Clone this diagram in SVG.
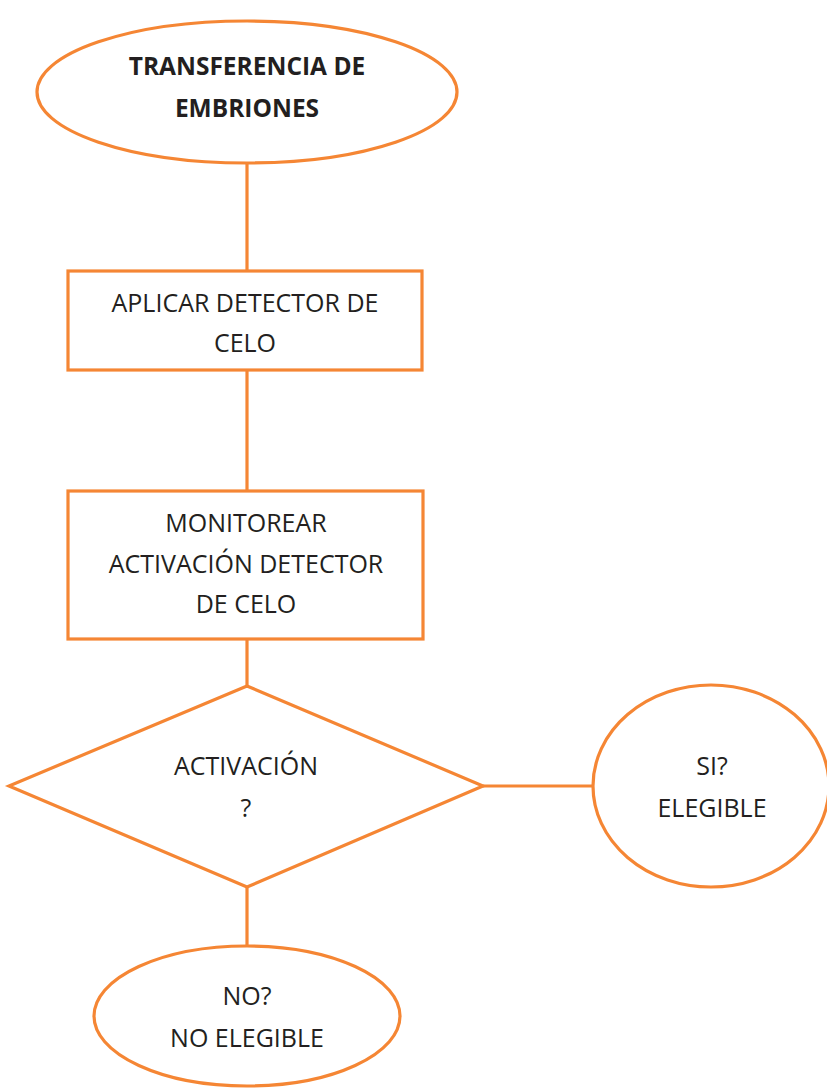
<svg xmlns="http://www.w3.org/2000/svg" width="827" height="1088" viewBox="0 0 827 1088">
<style>
.s{fill:#fff;stroke:#F58634;stroke-width:3.2}
.c{stroke:#F58634;stroke-width:3.2;fill:none}
text{font-family:"Open Sans","Liberation Sans",sans-serif;font-size:25px;fill:#231f20;text-anchor:middle}
.b{font-weight:bold;font-size:24.5px}
</style>
<rect width="827" height="1088" fill="#fff"/>
<g id="connectors">
<line class="c" x1="247" y1="163" x2="247" y2="271"/>
<line class="c" x1="247" y1="370" x2="247" y2="491"/>
<line class="c" x1="247" y1="639" x2="247" y2="686"/>
<line class="c" x1="483" y1="786" x2="593" y2="786"/>
<line class="c" x1="247" y1="887" x2="247" y2="945"/>
</g>
<g id="start">
<ellipse class="s" cx="247" cy="92" rx="210" ry="71"/>
<text class="b" x="247" y="75">TRANSFERENCIA DE</text>
<text class="b" x="247" y="117">EMBRIONES</text>
</g>
<g id="aplicar">
<rect class="s" x="68" y="271" width="354" height="99"/>
<text x="245" y="312">APLICAR DETECTOR DE</text>
<text x="245" y="352">CELO</text>
</g>
<g id="monitorear">
<rect class="s" x="68" y="491" width="355" height="148"/>
<text x="246" y="532">MONITOREAR</text>
<text x="246" y="573">ACTIVACIÓN DETECTOR</text>
<text x="246" y="613">DE CELO</text>
</g>
<g id="decision">
<polygon class="s" points="247,686 483,786 247,887 9,786"/>
<text x="246" y="775">ACTIVACIÓN</text>
<text x="246" y="817">?</text>
</g>
<g id="si">
<ellipse class="s" cx="711" cy="786" rx="118" ry="101"/>
<text x="712" y="775">SI?</text>
<text x="712" y="817">ELEGIBLE</text>
</g>
<g id="no">
<ellipse class="s" cx="247" cy="1016" rx="153" ry="70"/>
<text x="247" y="1005">NO?</text>
<text x="247" y="1047">NO ELEGIBLE</text>
</g>
</svg>
